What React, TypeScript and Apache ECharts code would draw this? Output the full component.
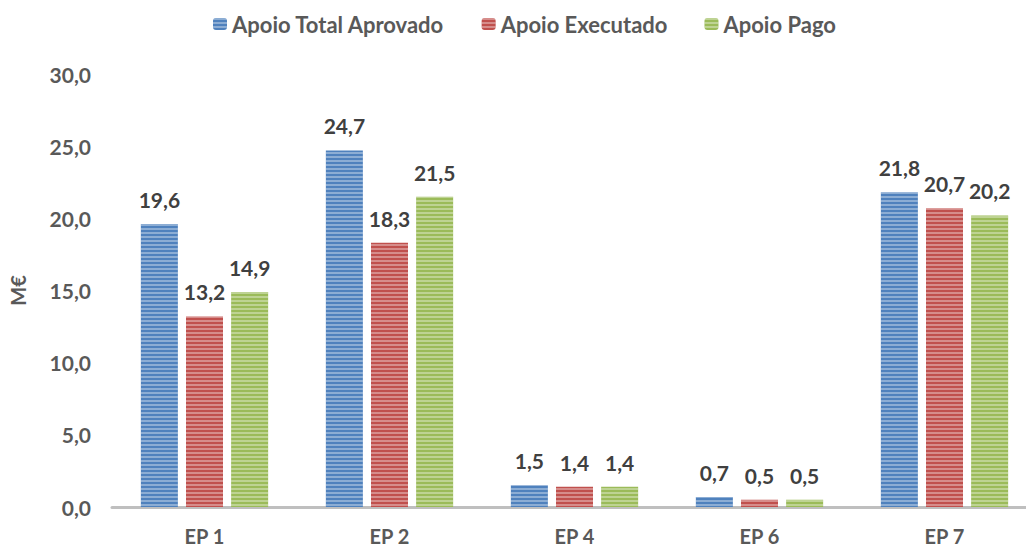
import React, { useEffect, useRef } from "react";
import * as echarts from "echarts";

const categories = ["EP 1", "EP 2", "EP 4", "EP 6", "EP 7"];
const seriesNames = ["Apoio Total Aprovado", "Apoio Executado", "Apoio Pago"];
const aprovado = [19.6, 24.7, 1.5, 0.7, 21.8];
const executado = [13.2, 18.3, 1.4, 0.5, 20.7];
const pago = [14.9, 21.5, 1.4, 0.5, 20.2];
const colors = ["#4F81BD", "#C0504D", "#9BBB59"];
const yAxisName = "M€";

const FONT = "Lato";
const fmt = (v: number) => v.toFixed(1).replace(".", ",");

export default function App() {
  const ref = useRef<HTMLDivElement>(null);
  useEffect(() => {
    if (!ref.current) return;
    const chart = echarts.init(ref.current, null, { renderer: "svg" });
    const decal = {
      symbol: "rect",
      symbolSize: 1,
      dashArrayX: [10, 0],
      dashArrayY: [2, 2],
      color: "rgba(255,255,255,0.35)",
      rotation: 0,
    };
    const mk = (name: string, data: number[], color: string) => ({
      name,
      type: "bar",
      data,
      barWidth: 37,
      barGap: "22%",
      itemStyle: { color, decal },
      label: {
        show: true,
        position: "top",
        distance: 14,
        formatter: (p: any) => fmt(p.value),
        fontFamily: FONT,
        fontWeight: "bold",
        fontSize: 21,
        color: "#404040",
      },
    });
    chart.setOption({
      animation: false,
      textStyle: { fontFamily: FONT },
      legend: {
        top: 8,
        left: 208,
        itemWidth: 14,
        itemHeight: 12,
        itemGap: 37,
        textStyle: { fontFamily: FONT, fontWeight: "bold", fontSize: 22, color: "#595959" },
        data: seriesNames,
      },
      grid: {
        left: 112,
        width: 925,
        top: 74,
        bottom: 40,
        containLabel: false,
        outerBoundsMode: "none",
      },
      xAxis: {
        type: "category",
        data: categories,
        axisTick: { show: false },
        axisLine: { lineStyle: { color: "#BFBFBF", width: 3 } },
        axisLabel: { fontFamily: FONT, fontWeight: "bold", fontSize: 20, color: "#595959", margin: 19 },
      },
      yAxis: {
        type: "value",
        min: 0,
        max: 30,
        interval: 5,
        name: yAxisName,
        nameLocation: "middle",
        nameGap: 84,
        nameTextStyle: { fontFamily: FONT, fontWeight: "bold", fontSize: 20, color: "#595959" },
        axisLine: { show: false },
        axisTick: { show: false },
        splitLine: { show: false },
        axisLabel: {
          fontFamily: FONT,
          fontWeight: "bold",
          fontSize: 21,
          color: "#595959",
          margin: 21,
          formatter: (v: number) => fmt(v),
        },
      },
      series: [
        mk(seriesNames[0], aprovado, colors[0]),
        mk(seriesNames[1], executado, colors[1]),
        mk(seriesNames[2], pago, colors[2]),
      ],
    });
    return () => chart.dispose();
  }, []);
  return (
    <div
      ref={ref}
      style={{ position: "absolute", left: 0, top: 0, width: 1026, height: 547, background: "#fff" }}
    />
  );
}
